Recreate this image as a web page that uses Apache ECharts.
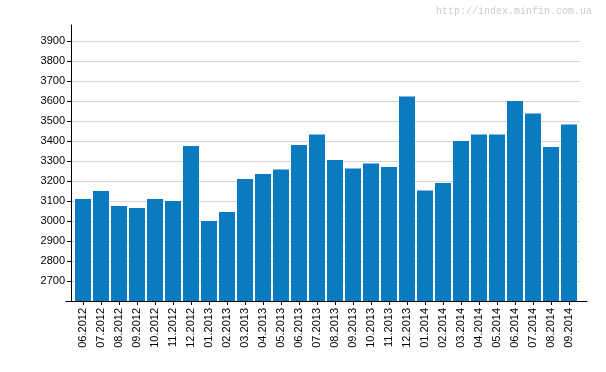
<!DOCTYPE html>
<html>
<head>
<meta charset="utf-8">
<script src="https://cdn.jsdelivr.net/npm/echarts@6/dist/echarts.min.js"></script>
<style>html,body{margin:0;padding:0;background:#fff}#c{width:606px;height:372px}</style>
</head>
<body>
<div id="c"></div>
<script>
var categories = ['06.2012','07.2012','08.2012','09.2012','10.2012','11.2012','12.2012',
  '01.2013','02.2013','03.2013','04.2013','05.2013','06.2013','07.2013','08.2013','09.2013',
  '10.2013','11.2013','12.2013','01.2014','02.2014','03.2014','04.2014','05.2014','06.2014',
  '07.2014','08.2014','09.2014'];
var values = [3110,3150,3075,3065,3110,3100,3375,
  3000,3045,3210,3235,3257,3380,3432,3305,3262,
  3287,3270,3622,3152,3190,3400,3432,3432,3600,
  3537,3370,3482];
var watermark = 'http://index.minfin.com.ua';
var yMin = 2600, yMax = 3980, yStep = 100;

var font = 'Liberation Sans';
var chart = echarts.init(document.getElementById('c'), null, {renderer: 'canvas'});
chart.setOption({
  animation: false,
  backgroundColor: '#fff',
  title: {
    text: watermark, right: 9, top: 1,
    textStyle: {fontFamily: 'Liberation Mono', fontSize: 10, fontWeight: 'normal', color: '#cccccc'}
  },
  grid: [
    {left: 71, right: 26, top: 25, bottom: 71},
    {left: 74, right: 28, top: 25, bottom: 71},
    {left: 66, right: 19, top: 25, bottom: 71}
  ],
  xAxis: [
    {gridIndex: 0, type: 'value', show: false, min: 0, max: 1},
    {gridIndex: 1, type: 'category', data: categories,
      axisLine: {show: false},
      axisTick: {show: true, alignWithLabel: true, length: 4, lineStyle: {color: '#000'}},
      axisLabel: {rotate: 90, interval: 0, margin: 7, color: '#000', fontFamily: font, fontSize: 11},
      splitLine: {show: false}},
    {gridIndex: 2, type: 'value', min: 0, max: 1,
      axisLine: {show: true, onZero: false, lineStyle: {color: '#000', width: 1}},
      axisTick: {show: false}, axisLabel: {show: false}, splitLine: {show: false}}
  ],
  yAxis: [
    {gridIndex: 0, type: 'value', min: yMin, max: yMax, interval: yStep,
      axisLine: {show: true, lineStyle: {color: '#000', width: 1}},
      axisTick: {show: true, length: 4, lineStyle: {color: '#000'}},
      axisLabel: {color: '#000', fontFamily: font, fontSize: 11, margin: 6,
        showMinLabel: false, showMaxLabel: false,
        formatter: function (v) { return String(v); }},
      splitLine: {show: true, showMinLine: false, showMaxLine: false, lineStyle: {color: '#d6d6d6', width: 1}}},
    {gridIndex: 1, type: 'value', min: yMin, max: yMax, show: false, splitLine: {show: false}},
    {gridIndex: 2, type: 'value', min: yMin, max: yMax, show: false, splitLine: {show: false}}
  ],
  series: [{
    type: 'bar', xAxisIndex: 1, yAxisIndex: 1,
    data: values, barWidth: 16,
    itemStyle: {color: '#0A7BC1'}
  }]
});
</script>
</body>
</html>
